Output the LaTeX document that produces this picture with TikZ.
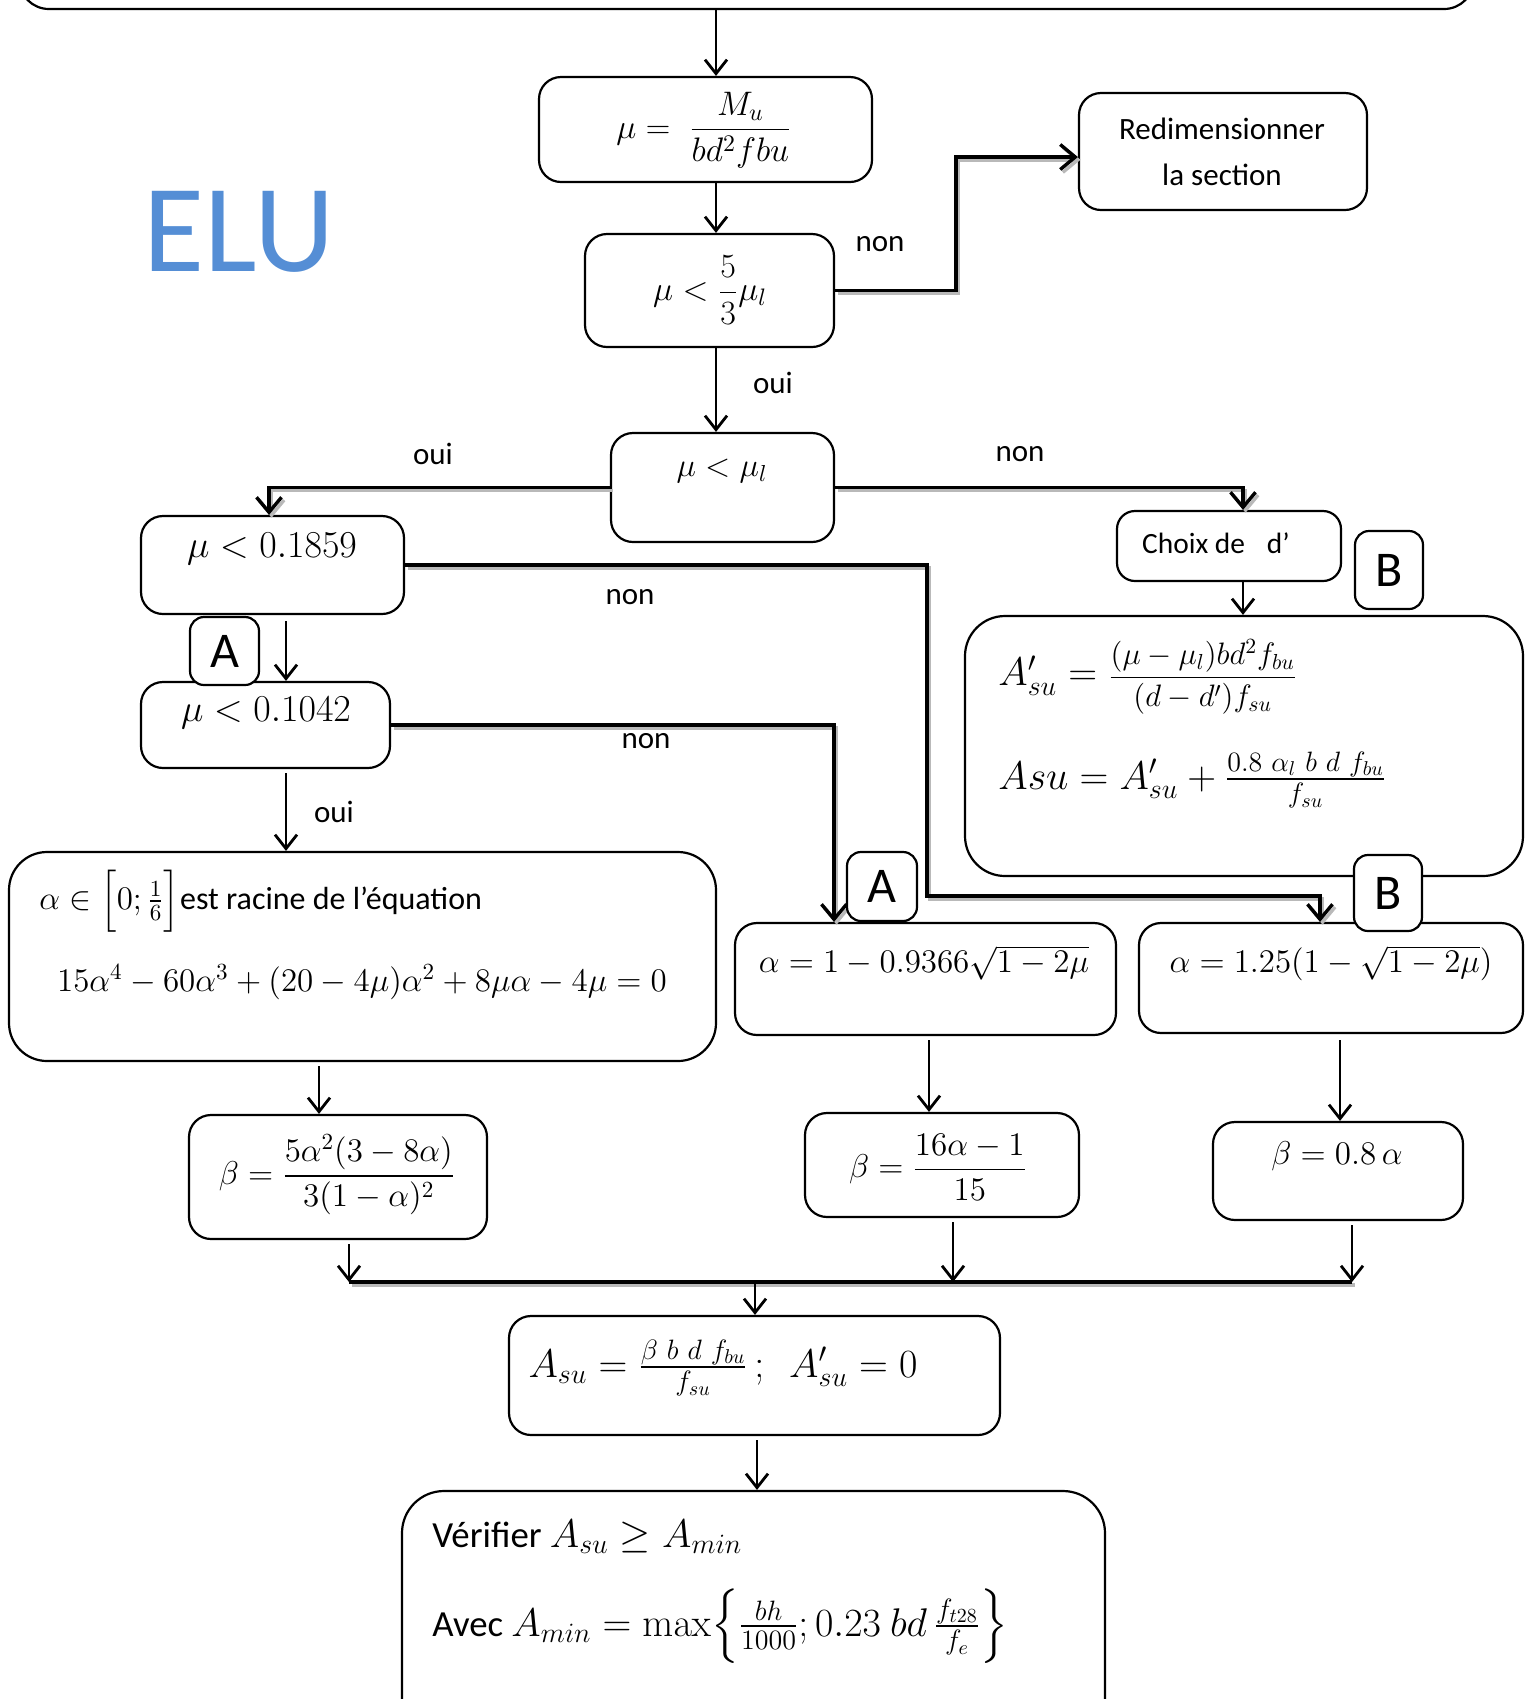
\RequirePackage{fix-cm}
\documentclass[tikz,border=0pt]{standalone}
\usepackage{amsmath}
\usepackage[no-math]{fontspec}
\setmainfont{Carlito}
\usetikzlibrary{arrows.meta,fit}
\definecolor{elublue}{RGB}{85,142,213}
\newcommand\fsz[2]{\fontsize{#1}{#2}\selectfont}
\newcommand\shconn[2]{%
  \begin{scope}[transform canvas={shift={(1.3pt,-1.4pt)}}]\draw[#1, draw=gray!55] #2;\end{scope}
  \draw[#1] #2;}
\begin{document}
\begin{tikzpicture}[x=0.5pt,y=-0.5pt,
  box/.style={draw, line width=1.1pt, rounded corners=#1, inner sep=0pt},
  box/.default=11pt,
  abox/.style={draw, fill=white, line width=1.1pt, rounded corners=7pt, inner sep=0pt, font=\fsz{25}{30}},
  tx/.style={inner sep=0pt, font=\fsz{15.5}{19}},
  mth/.style={inner sep=0pt, font=\fsz{16.5}{20}},
  arr/.style={line width=1.4pt, -{Straight Barb[length=7pt,width=11pt]}},
  sh/.style={line width=1.7pt, -{Straight Barb[length=7.5pt,width=12.5pt]}},
  shl/.style={line width=2pt}
]
\useasboundingbox (0,0) rectangle (1528,1699);
\clip (0,0) rectangle (1528,1699);

% x positions
\coordinate (x716) at (716,0);
\coordinate (x269) at (269,0);
\coordinate (x1243) at (1243,0);
\coordinate (x1320) at (1320,0);
\coordinate (x286) at (286,0);
\coordinate (x834) at (834,0);
\coordinate (x319) at (319,0);
\coordinate (x929) at (929,0);
\coordinate (x1340) at (1340,0);
\coordinate (x349) at (349,0);
\coordinate (x953) at (953,0);
\coordinate (x1352) at (1352,0);
\coordinate (x755) at (755,0);
\coordinate (x757) at (757,0);
\coordinate (bus) at (0,1282);
\coordinate (k1) at (956,157);
\coordinate (k2) at (927,896);

% boxes
\node[box=15pt, fit={(19,-60) (1474,9)}] (top) {};
\node[box, fit={(539,77) (872,182)}] (bmu) {};
\node[box, fit={(1079,93) (1367,210)}] (bred) {};
\node[box, fit={(585,234) (834,347)}] (b53) {};
\node[box, fit={(611,433) (834,542)}] (bml) {};
\node[box, fit={(141,516) (404,614)}] (b1859) {};
\node[box, fit={(141,682) (390,768)}] (b1042) {};
\node[box=9pt, fit={(1117,511) (1341,581)}] (bch) {};
\node[box=20pt, fit={(965,616) (1523,876)}] (bbig) {};
\node[box=19pt, fit={(9,852) (716,1061)}] (bq) {};
\node[box, fit={(735,923) (1116,1035)}] (ba09) {};
\node[box, fit={(1139,923) (1523,1033)}] (ba125) {};
\node[box, fit={(189,1115) (487,1239)}] (bb1) {};
\node[box, fit={(805,1113) (1079,1217)}] (bb2) {};
\node[box, fit={(1213,1122) (1463,1220)}] (bb3) {};
\node[box, fit={(509,1316) (1000,1435)}] (bas) {};
\node[box=21pt, fit={(402,1491) (1105,1760)}] (bver) {};

% texts
\node[mth, font=\fsz{17}{20}] (tmu) at (704,130) {$\mu =\; \dfrac{M_u}{bd^2fbu}$};
\node[tx, align=center, font=\fsz{15.5}{22.75}] (tred) at (1222,152) {Redimensionner\\la section};
\node[inner sep=0pt, font=\fsz{62.5}{70}, text=elublue] (elu) at (239,232) {ELU};
\node[mth, font=\fsz{17}{20}] (t53) at (710,290) {$\mu < \dfrac{5}{3}\mu_l$};
\node[tx] (non1) at (880,244) {non};
\node[tx] (oui1) at (773,383) {oui};
\node[mth] (tml) at (722,471) {$\mu < \mu_l$};
\node[tx] (oui2) at (433,454) {oui};
\node[tx] (non2) at (1020,454) {non};
\node[mth, font=\fsz{19}{22}] (t1859) at (272,549) {$\mu < 0.1859$};
\node[tx] (non3) at (630,597) {non};
\node[mth, font=\fsz{19}{22}] (t1042) at (266,713) {$\mu < 0.1042$};
\node[tx] (non4) at (646,741) {non};
\node[tx] (oui3) at (334,812) {oui};
\node[tx, font=\fsz{14.7}{18}] (tch) at (1216,543) {Choix de\hspace{11pt}d’};
\node[mth, font=\fsz{20}{24}, anchor=west] (tbig1) at (998,677) {$A_{su}^{\prime} = {}$\fsz{15.5}{19}$\dfrac{(\mu-\mu_l)bd^2f_{bu}}{(d-d')f_{su}}$};
\node[mth, font=\fsz{20}{24}, anchor=west] (tbig2) at (998,780) {$Asu = A_{su}^{\prime} + \frac{0.8\ \alpha_l\ b\ d\ f_{bu}}{f_{su}}$};
\node[tx, font=\fsz{16}{20}, anchor=west] (tq1) at (39,901) {\fsz{16.5}{20}$\alpha \in \Bigl[0;\frac{1}{6}\Bigr]$\fsz{16}{20}est racine de l’équation};
\node[mth] (tq2) at (362,982) {$15\alpha^4-60\alpha^3+(20-4\mu)\alpha^2+8\mu\alpha-4\mu=0$};
\node[mth] (ta09) at (924,963) {$\alpha = 1-0.9366\sqrt{1-2\mu}$};
\node[mth] (ta125) at (1331,963) {$\alpha = 1.25(1-\sqrt{1-2\mu})$};
\node[mth] (tb1) at (337,1175) {$\beta = \dfrac{5\alpha^2(3-8\alpha)}{3(1-\alpha)^2}$};
\node[mth] (tb2) at (938,1167) {$\beta = \dfrac{16\alpha-1}{15}$};
\node[mth] (tb3) at (1337,1156) {$\beta = 0.8\,\alpha$};
\node[mth, font=\fsz{20}{24}] (tas) at (723,1368) {$A_{su} = \frac{\beta\ b\ d\ f_{bu}}{f_{su}}\,;\ \ A_{su}^{\prime} = 0$};
\node[tx, font=\fsz{18.4}{22}, anchor=west] (tv1) at (432,1537) {Vérifier \fsz{20}{24}$A_{su} \geq A_{min}$};
\node[tx, font=\fsz{18.4}{22}, anchor=west] (tv2) at (432,1626) {Avec \fsz{20}{24}$A_{min} = \max\Bigl\{\frac{bh}{1000};0.23\ bd\,\frac{f_{t28}}{f_e}\Bigr\}$};

% connectors
\draw[arr] (x716 |- top.south) -- (x716 |- bmu.north);
\draw[arr] (x716 |- bmu.south) -- (x716 |- b53.north);
\shconn{sh}{(b53.east) -| (k1) -- (k1 -| bred.west)}
\draw[arr] (x716 |- b53.south) -- (x716 |- bml.north);
\shconn{sh}{(bml.west) -| (x269 |- b1859.north)}
\shconn{sh}{(bml.east) -| (x1243 |- bch.north)}
\draw[arr] (x1243 |- bch.south) -- (x1243 |- bbig.north);
\shconn{sh}{(b1859.east) -| (k2) -| (x1320 |- ba125.north)}
\draw[arr, shorten <=3pt] (x286 |- b1859.south) -- (x286 |- b1042.north);
\shconn{sh}{(b1042.east) -| (x834 |- ba09.north)}
\draw[arr, shorten <=2pt] (x286 |- b1042.south) -- (x286 |- bq.north);
\draw[arr, shorten <=2pt] (x319 |- bq.south) -- (x319 |- bb1.north);
\draw[arr, shorten <=2pt] (x929 |- ba09.south) -- (x929 |- bb2.north);
\draw[arr, shorten <=3pt] (x1340 |- ba125.south) -- (x1340 |- bb3.north);
\draw[arr, shorten <=2pt] (x349 |- bb1.south) -- (x349 |- bus);
\draw[arr, shorten <=2pt] (x953 |- bb2.south) -- (x953 |- bus);
\draw[arr, shorten <=2pt] (x1352 |- bb3.south) -- (x1352 |- bus);
\shconn{shl}{(x349 |- bus) -- (x1352 |- bus)}
\draw[arr] (x755 |- bus) -- (x755 |- bas.north);
\draw[arr, shorten <=2pt] (x757 |- bas.south) -- (x757 |- bver.north);

% A / B markers
\node[abox, minimum width=34.5pt, minimum height=34pt] (A1) at (224.5,651) {A};
\node[abox, minimum width=34pt, minimum height=39pt] (B1) at (1389,570) {B};
\node[abox, minimum width=35pt, minimum height=34.5pt] (A2) at (882,886.5) {A};
\node[abox, minimum width=34pt, minimum height=38pt] (B2) at (1388,893) {B};
\end{tikzpicture}
\end{document}
